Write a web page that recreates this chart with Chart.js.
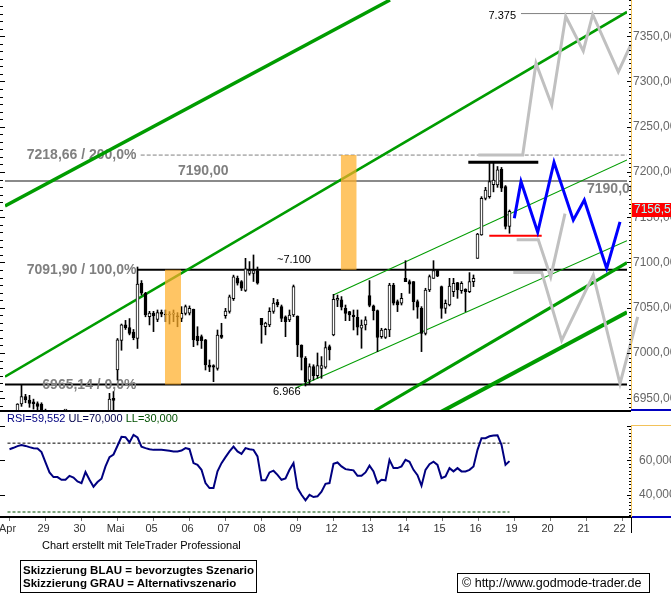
<!DOCTYPE html>
<html><head><meta charset="utf-8">
<script src="https://cdn.jsdelivr.net/npm/chart.js@4.4.1/dist/chart.umd.min.js"></script>
<style>
html,body{margin:0;padding:0;background:#fff;}
#wrap{position:relative;width:671px;height:595px;overflow:hidden;font-family:"Liberation Sans",Arial,Helvetica,sans-serif;background:#fff;}
#main{position:absolute;left:0;top:0;width:671px;height:412px;}
#rsi{position:absolute;left:0;top:410px;width:671px;height:126px;}
.note{position:absolute;font-size:11px;color:#000;white-space:nowrap;line-height:13px;}
.box{position:absolute;border:1px solid #000;box-sizing:border-box;white-space:nowrap;color:#000;}
</style></head><body>
<div id="wrap">
<canvas id="main" width="671" height="412"></canvas>
<canvas id="rsi" width="671" height="126"></canvas>
<div class="note" style="left:42px;top:539px;">Chart erstellt mit TeleTrader Professional</div>
<div class="box" style="left:20px;top:560px;width:237px;height:33px;font-weight:bold;font-size:11.5px;line-height:13.4px;padding:3px 0 0 2px;">Skizzierung BLAU = bevorzugtes Szenario<br>Skizzierung GRAU = Alternativszenario</div>
<div class="box" style="left:457px;top:573px;width:193px;height:20px;font-size:12.5px;line-height:18px;padding-left:4px;">© http://www.godmode-trader.de</div>
</div>
<script>
const FONT = '"Liberation Sans", Arial, Helvetica, sans-serif';

// ---------- data ----------
const dayLabels = ['Apr','29','30','Mai','05','06','07','08','09','12','13','14','15','16','19','20','21','22'];
const BARS_PER_DAY = 9;

const open = [
 6926,6930,6933,6943.6,6951.7,6948,6946,6944,6943.6,
 6936,6918,6905,6900,6902,6895,6896,6903,6899,
 6892,6888,6902,6893,6884,6890,6895,6920,6950,
 6981.2,7014,7031,7028,7023,7016,7077,7066,7040,
 7044,7037,7045,7043,7042,7043,7041,7038.3,7043.8,
 7044,7048.2,7018.8,7018,7014.4,6986.7,6986,6983,7019.9,
 7041.3,7046,7060,7082.5,7078.8,7069,7088,7088,7091,
 7038.3,7029,7031,7046,7056,7051.2,7040,7036.5,7042,
 7040.9,7008.8,6994,6970,6985,6975,6983,6984.2,7007,
 7019.9,7058.3,7058.6,7049.3,7045.7,7042,7039.4,7027.3,7031,
 7063.5,7052,7046.8,7018,7017.3,7025.4,7075.1,7056.7,7054.9,
 7082.5,7078.8,7078.8,7056.7,7049.3,7021.7,7069.6,7082.5,7091,
 7073.3,7049.3,7053,7067.8,7077.7,7068.9,7070.3,7067.8,7078.8,
 7104.6,7130.4,7170.9,7172.7,7186,7185.7,7203,7183.8,7139.7];
const high = [
 6934,6936,6944,6964.6,6954.3,6953.2,6949,6946,6945,
 6938,6922,6910,6906,6905,6900,6906,6905,6901,
 6896,6905,6904,6895,6892,6898,6925,6955.4,6957.3,
 7016,7032,7036,7038,7026,7095,7080,7067,7046,
 7046,7047.5,7047.5,7047.5,7045.7,7047.5,7044.6,7051.2,7053,
 7052,7048.5,7029,7019.9,7015,6992.3,6987,7025.4,7032.8,
 7049.3,7064,7086,7085,7080,7104.6,7101,7108.3,7095,
 7038.3,7034,7050,7060.4,7059,7053,7041,7047.5,7075.1,
 7041,7009,6996,6988,6987,7000,6996,7012.5,7008.8,
 7064.8,7064,7062.3,7053,7046,7047.5,7047.5,7036.5,7040.1,
 7080,7053,7047.5,7027.3,7027,7077,7077,7058.6,7065.9,
 7102,7080.7,7079,7058.6,7051.2,7071.5,7086.2,7102,7091.7,
 7074,7058.6,7082.5,7082.5,7078,7078.8,7071,7088.8,7086.2,
 7132.2,7172.7,7183,7209.6,7210.7,7206,7205,7185,7158];
const low = [
 6918,6924,6928,6941,6945,6940,6938,6932,6930,
 6915,6900,6895,6894,6890,6889,6894,6895,6888,
 6884,6886,6890,6880,6882,6886,6893,6918,6930,
 6970,7003,7026,7020,7014.6,7005,7064,7040,7031,
 7023.6,7034.6,7040,7034.6,7032,7034.6,7029,7034.6,7042,
 7042,7007,7008.8,7005,6981.2,6979.4,6968.3,6981,7016,
 7038.3,7044,7058,7075,7069,7068,7086,7079,7076,
 7010.7,7020,7029,7043.8,7051,7034.6,7018,7034.6,7040.2,
 6996,6981.2,6963.5,6966,6970,6972,6972,6983,6992.3,
 7019,7051.2,7047.5,7035.7,7035.7,7025.4,7019.9,7005.2,7025.4,
 7051,7036.5,7001.5,7016.2,7016,7018,7053,7045.7,7053,
 7078.8,7065.9,7047.5,7038.3,7001.5,7019.9,7067.8,7082.5,7084.3,
 7038.3,7043.8,7052,7062.3,7060.4,7065.9,7045.7,7066.7,7073.3,
 7104.6,7130,7169.1,7171,7178,7183,7178.3,7137,7132.3];
const close = [
 6930,6933,6943.6,6951.7,6948,6944.4,6944,6941,6937,
 6918,6905,6900,6902,6895,6896,6903,6899,6892,
 6888,6902,6893,6884,6890,6895,6920,6949.2,6947.5,
 7014.4,7031,7028,7021.5,7017,7076,7066,7042,7044,
 7041,7044.5,7043,7042,7043,7043,7040,7043.8,7051.2,
 7049.3,7014.4,7013.6,7013.6,6986.7,6984.2,6984.2,7019.9,7017.3,
 7046.4,7062,7084,7077,7071.5,7093,7091,7091,7077,
 7031,7033,7046,7055,7053,7038.3,7034.6,7042,7073.3,
 7008.8,6995.2,6968.3,6985,6975,6986,6986,7005.9,7003.3,
 7059.3,7060.4,7050.5,7043.8,7042,7040.1,7028.4,7030.9,7036.5,
 7052.5,7046.8,7017.3,7025.4,7026.2,7075.1,7054.9,7053,7060.4,
 7078.8,7075.9,7056.7,7050.5,7021.7,7069.6,7084.3,7091,7085,
 7049.3,7054.9,7074,7077,7069.6,7077,7067.8,7078.8,7082.5,
 7131.5,7170.9,7180.1,7189.3,7191,7202.3,7182,7139.7,7156.55];

const rsi = [
 66.5,67.3,68.3,68.9,68.4,67.7,67.1,66.9,64.8,
 58.8,53.0,50.3,50.3,48.7,48.7,51.0,50.0,47.8,
 46.8,53.2,48.7,44.7,47.4,49.3,56.5,61.9,63.4,
 68.5,73.7,73.5,70.4,74.8,73.3,68.0,67.1,66.5,
 66.1,66.1,66.1,65.9,65.6,65.2,65.2,65.7,67.1,
 66.5,58.4,57.4,54.5,46.8,43.9,43.9,53.6,58.4,
 61.9,65.2,68.0,65.2,63.8,67.1,66.5,66.1,62.3,
 48.4,48.4,53.0,54.0,51.6,48.7,49.5,54.5,58.4,
 43.9,40.0,36.8,40.0,38.7,39.1,41.8,46.4,46.8,
 58.0,58.8,56.5,54.9,54.5,54.2,51.0,51.0,53.0,
 56.9,53.6,46.8,48.7,48.4,60.3,55.5,55.5,56.5,
 60.3,59.2,54.5,51.4,45.3,54.5,57.8,59.2,57.4,
 49.7,50.7,55.5,53.6,55.5,53.6,53.6,54.5,56.5,
 66.1,72.9,72.9,74.0,74.5,74.6,69.0,57.4,59.552];

const priceTicks = [6950,7000,7050,7100,7150,7200,7250,7300,7350];
const rsiTicks = [40, 60];
const rsiUpper = 70, rsiLower = 30;

const fibLevels = [6965.14, 7091.90, 7218.66];
const fibPercent = [0, 100, 200];
const fibStartDay = 3.611;
const resistance = 7190.00;
const targetHigh = 7375;
const markedHigh = 7100;
const markedLow = 6966;
const recentHigh = 7210.7, recentHighDays = [12.8, 14.744];
const recentLow = 7129.5, recentLowDays = [13.383, 14.839];
const zoneDays = [[4.375, 4.819], [9.256, 9.70]];
const zoneLevels = [[6965.14, 7091.90], [7091.90, 7218.66]];

// preferred scenario (blue)
const blueX = [14.078, 14.264, 14.728, 15.181, 15.717, 16.022, 16.644, 17.014];
const blueY = [7148.8, 7189.3, 7133.4, 7210.8, 7146.8, 7168.9, 7093.4, 7144.9];
// alternative scenarios (grey)
const greyUpX = [13.078, 14.311, 14.681, 15.117, 15.506, 15.994, 16.256, 16.967, 17.319, 17.661, 18.078, 18.311];
const greyUpY = [7218.66, 7218.66, 7320.1, 7274.0, 7372.0, 7333.7, 7374.0, 7310.7, 7341.0, 7272.4, 7230.7, 7284.0];
const greyMidX = [14.144, 14.744, 15.089, 15.486];
const greyMidY = [7125, 7125, 7084, 7154];
const greyLowX = [14.05, 14.839, 15.394, 16.272, 17.014, 17.506];
const greyLowY = [7089, 7089, 7014, 7086, 6966, 7040];

// trend / channel lines: [x0, x1], [y0, y1], width
const trendX = [[-0.0694, 10.625], [-0.0694, 17.208], [9.05, 17.208], [7.986, 17.208], [10.2, 17.208], [12.0, 17.208]];
const trendY = [[7162.4, 7390], [6973.8, 7376.8], [7064.1, 7213.3], [6961, 7124.1], [6936, 7099.8], [6934, 7045]];
const trendW = [3.5, 2.5, 1.1, 1.1, 3, 4];

// ---------- helpers ----------
const X_MIN = -0.0694, X_MAX = 17.2083;
const Y_MIN = 6937, Y_MAX = 7390;
const R_MIN = 27.1, R_MAX = 88.1;
const AXIS_COLOR = '#f2c25a';
const fmt = (v, d) => v.toFixed(d).replace('.', ',');
const fmtK = v => Math.floor(v / 1000) + '.' + String(Math.round(v % 1000)).padStart(3, '0');
const candleX = open.map((_, i) => Math.floor(i / BARS_PER_DAY) + ((i % BARS_PER_DAY) + 0.5) / BARS_PER_DAY);
const pts = (xs, ys) => xs.map((x, i) => ({x, y: ys[i]}));
const line = (o) => Object.assign({type: 'line', pointRadius: 0, fill: false, tension: 0, yAxisID: 'y', xAxisID: 'x'}, o);
const dayTicks = s => { s.ticks = dayLabels.map((_, i) => ({value: i})); };

// ---------- main chart ----------
const datasets = [];
datasets.push(line({label: 'lvl7190', data: pts([X_MIN, X_MAX], [resistance, resistance]), borderColor: '#8a8a8a', borderWidth: 2, order: 40}));
datasets.push(line({label: 'fib2', data: pts([3.70, X_MAX], [fibLevels[2], fibLevels[2]]), borderColor: '#808080', borderWidth: 1, borderDash: [4, 2], order: 40}));
datasets.push(line({label: 'fib1', data: pts([fibStartDay, X_MAX], [fibLevels[1], fibLevels[1]]), borderColor: '#000', borderWidth: 2, order: 40}));
datasets.push(line({label: 'target', data: pts([14.264, X_MAX], [targetHigh, targetHigh]), borderColor: '#808080', borderWidth: 1, order: 40}));
datasets.push(line({label: 'fib0', data: pts([X_MIN, X_MAX], [fibLevels[0], fibLevels[0]]), borderColor: '#000', borderWidth: 2, order: 39}));
trendX.forEach((xs, k) => datasets.push(line({label: 'trend' + k, data: pts(xs, trendY[k]), borderColor: '#009c00', borderWidth: trendW[k], order: 30})));
datasets.push({type: 'bar', label: 'wick', xAxisID: 'x', yAxisID: 'y', grouped: false, categoryPercentage: 1, barPercentage: 1, maxBarThickness: 1,
  data: candleX.map((x, i) => ({x, y: [low[i], high[i]]})), backgroundColor: '#000', borderWidth: 0, order: 22});
datasets.push({type: 'bar', label: 'body', xAxisID: 'x', yAxisID: 'y', grouped: false, categoryPercentage: 1, barPercentage: 1, maxBarThickness: 3, minBarLength: 1,
  data: candleX.map((x, i) => ({x, y: [open[i], close[i]]})),
  backgroundColor: close.map((c, i) => c >= open[i] ? '#fff' : '#000'), borderColor: '#000', borderWidth: 1, borderSkipped: false, order: 21});
zoneDays.forEach((d, k) => datasets.push(line({label: 'zone' + k, data: pts(d, [zoneLevels[k][1], zoneLevels[k][1]]),
  borderWidth: 0, borderColor: 'rgba(0,0,0,0)', backgroundColor: 'rgba(255,175,40,0.72)', fill: {value: zoneLevels[k][0]}, order: 15})));
datasets.push(line({label: 'hi', data: pts(recentHighDays, [recentHigh, recentHigh]), borderColor: '#000', borderWidth: 3, order: 10}));
datasets.push(line({label: 'lo', data: pts(recentLowDays, [recentLow, recentLow]), borderColor: '#ff0000', borderWidth: 2, order: 10}));
datasets.push(line({label: 'greyUp', data: pts(greyUpX, greyUpY), borderColor: '#c0c0c0', borderWidth: 3, clip: false, order: 8}));
datasets.push(line({label: 'greyMid', data: pts(greyMidX, greyMidY), borderColor: '#c0c0c0', borderWidth: 3, clip: false, order: 8}));
datasets.push(line({label: 'greyLow', data: pts(greyLowX, greyLowY), borderColor: '#c0c0c0', borderWidth: 3, clip: false, order: 8}));
datasets.push(line({label: 'blue', data: pts(blueX, blueY), borderColor: '#0000ff', borderWidth: 3, order: 5}));

const mainDecor = {
  id: 'mainDecor',
  afterDatasetDraw(chart, args) {
    if (chart.data.datasets[args.index].label !== 'fib0') return;
    const {ctx, chartArea: a, scales: {x, y}} = chart;
    ctx.save();
    ctx.beginPath(); ctx.rect(a.left, a.top, 631 - a.left, a.bottom - a.top); ctx.clip();
    ctx.font = 'bold 14px ' + FONT;
    ctx.fillStyle = '#808080';
    ctx.textBaseline = 'middle';
    ctx.textAlign = 'right';
    fibLevels.forEach((L, k) => ctx.fillText(fmt(L, 2) + ' / ' + fmt(fibPercent[k], 1) + '%', x.getPixelForValue(fibStartDay) - 1, y.getPixelForValue(L) + 0.5));
    ctx.textAlign = 'left';
    ctx.fillText(fmt(resistance, 2), 178, y.getPixelForValue(resistance) - 10);
    ctx.fillText(fmt(resistance, 2), 587, y.getPixelForValue(resistance) + 8);
    ctx.restore();
  },
  afterDraw(chart) {
    const {ctx, chartArea: a, scales: {y}} = chart;
    ctx.save();
    ctx.font = '11px ' + FONT;
    ctx.fillStyle = '#000';
    ctx.textBaseline = 'middle';
    ctx.textAlign = 'left';
    ctx.fillText('~' + fmtK(markedHigh), 277, y.getPixelForValue(markedHigh) - 3);
    ctx.fillText(fmtK(markedLow), 273, y.getPixelForValue(markedLow) + 8.5);
    ctx.textAlign = 'right';
    ctx.fillText(fmtK(targetHigh), 516, y.getPixelForValue(targetHigh) + 2);
    // left ticks
    for (let k = -2; k <= 60; k++) {
      const v = 6950 + k * 50 / 6;
      if (v < Y_MIN || v > Y_MAX) continue;
      const py = Math.round(y.getPixelForValue(v));
      ctx.fillRect(0, py, k % 6 === 0 ? 5 : 3, 1);
    }
    // right axis line + ticks (ticks sit left of the axis line)
    ctx.fillStyle = AXIS_COLOR;
    ctx.fillRect(631, 0, 1, a.bottom);
    ctx.fillStyle = '#000';
    for (let v = 6940; v <= Y_MAX; v += 5) {
      const py = Math.round(y.getPixelForValue(v));
      if (v % 50 === 0) ctx.fillRect(627, py, 4, 1); else ctx.fillRect(629, py, 2, 1);
    }
    // panel separator
    ctx.fillRect(0, a.bottom, 631, 2);
    ctx.fillStyle = '#0000c0';
    ctx.fillRect(631, a.bottom - 1, 40, 2);
    // last price label
    const last = close[close.length - 1];
    const py = y.getPixelForValue(last) - 1;
    ctx.fillStyle = '#ff0000';
    ctx.fillRect(632, Math.round(py) - 7, 39, 14);
    ctx.fillStyle = '#aaffff';
    ctx.font = '12px ' + FONT;
    ctx.textAlign = 'left';
    ctx.fillText(fmt(last, 2), 634, Math.round(py));
    ctx.restore();
  }
};

new Chart(document.getElementById('main'), {
  type: 'bar',
  data: {datasets},
  options: {
    responsive: false, animation: false, events: [],
    layout: {autoPadding: false, padding: {left: 0, right: 0, top: 0, bottom: 2}},
    plugins: {legend: {display: false}, tooltip: {enabled: false}},
    scales: {
      x: {type: 'linear', min: X_MIN, max: X_MAX, display: false, offset: false, afterBuildTicks: dayTicks},
      y: {type: 'linear', position: 'right', min: Y_MIN, max: Y_MAX,
          grid: {display: false, drawTicks: false}, border: {display: false},
          ticks: {padding: 6, color: '#666', font: {family: FONT, size: 12}, autoSkip: false, callback: v => fmt(v, 2)},
          afterBuildTicks: s => { s.ticks = priceTicks.map(v => ({value: v})); },
          afterFit: s => { s.width = 44; s.paddingTop = 0; s.paddingBottom = 0; }},
      yL: {type: 'linear', position: 'left', min: Y_MIN, max: Y_MAX,
          grid: {display: false, drawTicks: false}, border: {display: false}, ticks: {display: false},
          afterFit: s => { s.width = 5; s.paddingTop = 0; s.paddingBottom = 0; }}
    }
  },
  plugins: [mainDecor]
});

// ---------- RSI chart ----------
const lastRsiX = candleX[candleX.length - 1];
const rsiDecor = {
  id: 'rsiDecor',
  afterDraw(chart) {
    const {ctx, chartArea: a, scales: {x, y}} = chart;
    ctx.save();
    ctx.font = '11px ' + FONT;
    ctx.textBaseline = 'middle';
    ctx.textAlign = 'left';
    let tx = 7;
    const parts = [['RSI=' + fmt(rsi[rsi.length - 1], 3) + ' ', '#000080'], ['UL=' + fmt(rsiUpper, 3) + ' ', '#00004a'], ['LL=' + fmt(rsiLower, 3), '#005000']];
    parts.forEach(([t, c]) => { ctx.fillStyle = c; ctx.fillText(t, tx, 9); tx += ctx.measureText(t).width; });
    ctx.fillStyle = '#000';
    // left ticks
    [40, 60, 80].forEach(v => ctx.fillRect(0, Math.round(y.getPixelForValue(v)), 5, 1));
    // right axis (starts a little below the panel top)
    const axTop = Math.round(y.getPixelForValue(80)) - 1;
    ctx.fillStyle = AXIS_COLOR;
    ctx.fillRect(631, axTop, 1, a.bottom - axTop);
    ctx.fillRect(631, axTop, 40, 1);
    ctx.fillStyle = '#000';
    for (let v = 28; v <= 80; v += 2) {
      const py = Math.round(y.getPixelForValue(v));
      if (v % 20 === 0) ctx.fillRect(627, py, 4, 1); else ctx.fillRect(629, py, 2, 1);
    }
    // bottom border, x ticks
    ctx.fillRect(0, a.bottom - 1, 631, 2);
    ctx.fillRect(631, a.bottom, 1, 16);
    ctx.fillStyle = '#0000c0';
    ctx.fillRect(632, a.bottom - 1, 39, 2);
    ctx.fillStyle = '#777';
    dayLabels.forEach((_, i) => ctx.fillRect(Math.round(x.getPixelForValue(i + 0.5 / BARS_PER_DAY)), a.bottom + 1, 1, 3));
    ctx.restore();
  }
};

new Chart(document.getElementById('rsi'), {
  type: 'line',
  data: {datasets: [
    {label: 'RSI', data: pts(candleX, rsi), borderColor: '#000080', borderWidth: 2, pointRadius: 0, tension: 0, fill: false, yAxisID: 'y'},
    {label: 'UL', data: pts([0, lastRsiX], [rsiUpper, rsiUpper]), borderColor: '#000', borderWidth: 1, borderDash: [3, 2], pointRadius: 0, fill: false, yAxisID: 'y'},
    {label: 'LL', data: pts([0, lastRsiX], [rsiLower, rsiLower]), borderColor: '#005000', borderWidth: 1, borderDash: [3, 2], pointRadius: 0, fill: false, yAxisID: 'y'}
  ]},
  options: {
    responsive: false, animation: false, events: [],
    layout: {autoPadding: false, padding: {left: 0, right: 0, top: 2, bottom: 0}},
    plugins: {legend: {display: false}, tooltip: {enabled: false}},
    scales: {
      x: {type: 'linear', min: X_MIN, max: X_MAX, offset: false,
          grid: {display: false, drawTicks: false}, border: {display: false},
          ticks: {padding: 5, color: '#333', font: {family: FONT, size: 11}, autoSkip: false, maxRotation: 0, callback: (v, i) => dayLabels[i]},
          afterBuildTicks: dayTicks,
          afterFit: s => { s.height = 19; s.paddingLeft = 0; s.paddingRight = 0; }},
      y: {type: 'linear', position: 'right', min: R_MIN, max: R_MAX,
          grid: {display: false, drawTicks: false}, border: {display: false},
          ticks: {padding: 12, color: '#666', font: {family: FONT, size: 12}, autoSkip: false, callback: v => fmt(v, 3)},
          afterBuildTicks: s => { s.ticks = rsiTicks.map(v => ({value: v})); },
          afterFit: s => { s.width = 44; s.paddingTop = 0; s.paddingBottom = 0; }},
      yL: {type: 'linear', position: 'left', min: R_MIN, max: R_MAX,
          grid: {display: false, drawTicks: false}, border: {display: false}, ticks: {display: false},
          afterFit: s => { s.width = 5; s.paddingTop = 0; s.paddingBottom = 0; }}
    }
  },
  plugins: [rsiDecor]
});
</script>
</body></html>
